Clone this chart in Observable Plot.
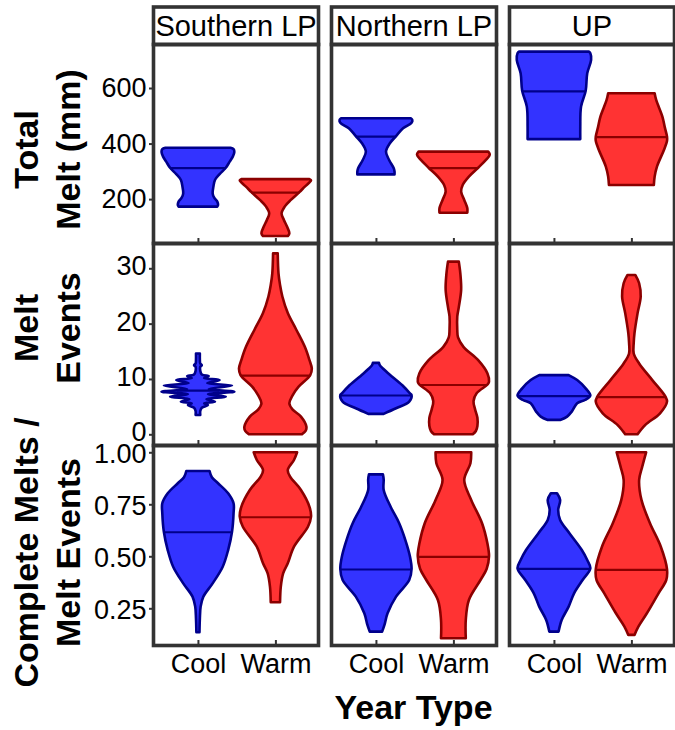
<!DOCTYPE html>
<html><head><meta charset="utf-8">
<script src="https://cdn.jsdelivr.net/npm/d3@7"></script>
<script src="https://cdn.jsdelivr.net/npm/@observablehq/plot@0.6"></script>
<style>
body{margin:0;background:#fff;}
#chart{position:relative;width:675px;height:730px;overflow:hidden;font-family:"Liberation Sans",Arial,Helvetica,sans-serif;}
#chart svg{position:absolute;left:0;}
#xtitle{position:absolute;left:153px;width:521px;top:690px;text-align:center;font-weight:bold;font-size:34px;line-height:1;color:#000;}
</style></head><body>
<div id="chart"><div id="xtitle">Year Type</div></div>
<script>
// ---- categories ----
const regions = ["Southern LP", "Northern LP", "UP"];
const yearTypes = ["Cool", "Warm"];

// ---- Total Melt (mm): violin profiles [value, relative half-width] ----
const meltSouthCool = [[173,0.25],[179,0.26],[191,0.25],[205,0.21],[221,0.19],[245,0.20],[269,0.22],[290,0.28],[313,0.36],[335,0.41],[353,0.45],[370,0.47],[380,0.46],[385,0.42]];
const meltSouthWarm = [[67,0.16],[77,0.18],[101,0.15],[125,0.11],[149,0.08],[173,0.12],[197,0.20],[225,0.31],[245,0.38],[260,0.44],[268,0.46],[272,0.44]];
const meltNorthCool = [[289,0.24],[300,0.24],[311,0.23],[341,0.17],[371,0.13],[401,0.18],[427,0.26],[455,0.35],[475,0.46],[485,0.47],[491,0.45]];
const meltNorthWarm = [[151,0.18],[167,0.18],[197,0.14],[227,0.10],[251,0.12],[281,0.20],[313,0.32],[341,0.42],[360,0.47],[371,0.45]];
const meltUpCool = [[416,0.34],[461,0.34],[533,0.35],[590,0.41],[653,0.43],[701,0.48],[725,0.47],[731,0.45]];
const meltUpWarm = [[251,0.29],[281,0.30],[317,0.33],[377,0.42],[410,0.46],[425,0.46],[460,0.43],[497,0.40],[557,0.32],[581,0.30]];
const meltMedians = [313, 225, 427, 313, 590, 425];

// ---- Melt Events ----
const eventsSouthCool = [[3.5,0.03],[4.2,0.03],[4.8,0.05],[5.3,0.13],[5.6,0.08],[5.9,0.22],[6.35,0.11],[6.8,0.36],[7.25,0.13],[7.7,0.47],[8.2,0.14],[8.8,0.44],[9.25,0.12],[9.8,0.28],[10.15,0.08],[10.5,0.14],[10.8,0.05],[11.5,0.03],[12.2,0.03],[12.5,0.05],[12.8,0.03],[13.5,0.025],[14.6,0.025]];
const eventsSouthWarm = [[0,0.34],[0.6,0.39],[1.4,0.40],[3.2,0.33],[4.5,0.22],[5.6,0.18],[7,0.22],[8.6,0.30],[10.7,0.45],[11.9,0.47],[13.4,0.44],[15.8,0.38],[18.9,0.27],[21.9,0.16],[24.9,0.09],[27,0.06],[29.1,0.04],[32.7,0.03]];
const eventsNorthCool = [[3.7,0.10],[4.7,0.26],[5.9,0.43],[7.1,0.46],[7.4,0.44],[8.6,0.36],[10.4,0.21],[11.9,0.09],[12.5,0.05],[12.9,0.04]];
const eventsNorthWarm = [[0,0.25],[0.6,0.29],[1.5,0.31],[3,0.31],[4.5,0.28],[6,0.26],[7.4,0.30],[9.0,0.44],[9.5,0.46],[11.0,0.44],[13.4,0.32],[15.8,0.13],[17.5,0.06],[18.9,0.05],[21.3,0.05],[23,0.07],[26.1,0.10],[29,0.09],[31.2,0.07]];
const eventsUpCool = [[2.6,0.08],[3.2,0.17],[4.1,0.23],[5.6,0.30],[6.2,0.40],[7.0,0.47],[8.3,0.41],[9.8,0.30],[10.7,0.19]];
const eventsUpWarm = [[0,0.08],[1.7,0.18],[3.8,0.37],[5.9,0.46],[6.8,0.44],[9.8,0.27],[12.8,0.10],[14.6,0.03],[16.5,0.03],[18.3,0.04],[21.9,0.08],[24.9,0.12],[27.3,0.10],[28.8,0.05]];
const eventMedians = [8.0, 10.7, 7.1, 9.0, 7.0, 6.8];

// ---- Complete Melts / Melt Events ----
const ratioSouthCool = [[0.135,0.02],[0.2,0.025],[0.258,0.035],[0.306,0.07],[0.37,0.19],[0.45,0.32],[0.53,0.39],[0.618,0.44],[0.707,0.46],[0.755,0.46],[0.803,0.39],[0.851,0.26],[0.88,0.18],[0.91,0.15]];
const ratioSouthWarm = [[0.279,0.06],[0.354,0.07],[0.418,0.10],[0.466,0.16],[0.546,0.24],[0.642,0.42],[0.69,0.46],[0.738,0.44],[0.819,0.33],[0.883,0.19],[0.915,0.16],[0.963,0.24],[1.0,0.28]];
const ratioNorthCool = [[0.138,0.08],[0.17,0.11],[0.226,0.15],[0.306,0.26],[0.386,0.43],[0.439,0.46],[0.498,0.44],[0.578,0.38],[0.659,0.30],[0.738,0.19],[0.819,0.10],[0.87,0.10],[0.894,0.09]];
const ratioNorthWarm = [[0.106,0.16],[0.194,0.16],[0.29,0.20],[0.386,0.35],[0.44,0.43],[0.5,0.46],[0.56,0.44],[0.659,0.37],[0.771,0.23],[0.867,0.14],[0.947,0.22],[1.0,0.23]];
const ratioUpCool = [[0.138,0.06],[0.194,0.10],[0.258,0.19],[0.322,0.26],[0.386,0.37],[0.442,0.47],[0.482,0.43],[0.53,0.36],[0.611,0.20],[0.675,0.08],[0.723,0.055],[0.771,0.08],[0.803,0.04]];
const ratioUpWarm = [[0.122,0.04],[0.162,0.09],[0.226,0.20],[0.322,0.35],[0.386,0.45],[0.437,0.46],[0.546,0.38],[0.659,0.24],[0.771,0.13],[0.867,0.10],[0.931,0.14],[1.0,0.19]];
const ratioMedians = [0.618, 0.69, 0.439, 0.5, 0.442, 0.437];

// ---- axis ticks / labels ----
const meltTicks = [200, 400, 600];
const eventTicks = [0, 10, 20, 30];
const ratioTicks = [0.25, 0.5, 0.75, 1.0];
const rowTitles = ["Total\nMelt (mm)", "Melt\nEvents", "Complete Melts /\nMelt Events"];

// ---- styling ----
const FONT = '"Liberation Sans", Arial, Helvetica, sans-serif';
const fills = {Cool: "#3333ff", Warm: "#ff3333"};
const strokes = {Cool: "#00008b", Warm: "#8b0000"};
const typePos = {Cool: 1, Warm: 2};
const W = 675;
const fxOpts = {domain: regions, paddingInner: 13 / 178, paddingOuter: 0, axis: null, round: false};
const facetM = {marginTop: 0, marginRight: 0, marginBottom: 0, marginLeft: 0};
const xDomain = [0.42, 2.55];
const chart = document.getElementById("chart");

function group(list) {
  // list order: SLP Cool, SLP Warm, NLP Cool, NLP Warm, UP Cool, UP Warm
  return list.map((arr, i) => [regions[Math.floor(i / 2)], yearTypes[i % 2], arr]);
}
function rowsFrom(profiles) {
  return profiles.flatMap(([region, type, arr]) => arr.map(([value, w]) => ({region, type, value, w})));
}
function widthAt(arr, v) {
  for (let i = 1; i < arr.length; i++) {
    const [v0, w0] = arr[i - 1], [v1, w1] = arr[i];
    if (v >= v0 && v <= v1) return w0 + (w1 - w0) * (v - v0) / (v1 - v0);
  }
  return arr[arr.length - 1][1];
}
function medianRows(profiles, medians) {
  return profiles.map(([region, type, arr], i) => ({region, type, value: medians[i], w: widthAt(arr, medians[i])}));
}
const baseStyle = {background: "transparent", fontFamily: FONT, fontSize: "27px", color: "black", overflow: "visible"};

function panelRow({profiles, medians, yDomain, yTicks, yFormat, labelDy, title, titleDy, top, height, marginBottom, showX}) {
  const data = rowsFrom(profiles);
  const med = medianRows(profiles, medians);
  const marks = [Plot.frame({stroke: "#333", strokeWidth: 3.6, insetBottom: -5})];
  for (const t of yearTypes) {
    marks.push(Plot.areaX(data.filter(d => d.type === t), {
      fx: "region", y: "value",
      x1: d => typePos[d.type] - d.w, x2: d => typePos[d.type] + d.w,
      z: "region", fill: fills[t], stroke: strokes[t], strokeWidth: 2.6, strokeLinejoin: "round",
      curve: "catmull-rom"
    }));
    marks.push(Plot.ruleY(med.filter(d => d.type === t), {
      fx: "region", y: "value",
      x1: d => typePos[d.type] - d.w, x2: d => typePos[d.type] + d.w,
      stroke: strokes[t], strokeWidth: 2.2
    }));
  }
  // y ticks (marks only) and y tick labels
  marks.push(Plot.axisY({ticks: yTicks, tickSize: 4, tickFormat: () => "", label: null, strokeWidth: 2, stroke: "#333"}));
  marks.push(Plot.axisY({ticks: yTicks, tickSize: 0, tickPadding: 7, tickFormat: yFormat, fontSize: 27, label: null, dy: labelDy}));
  marks.push(Plot.axisX({ticks: [1, 2], tickSize: 5, tickPadding: 8, fontSize: 27, label: null, strokeWidth: 2, stroke: "#333",
    tickFormat: showX ? (d => yearTypes[d - 1]) : (() => "")}));
  marks.push(Plot.text([{region: regions[0], label: title}], {
    fx: "region", text: "label", frameAnchor: "left", rotate: -90, dx: -108, dy: titleDy,
    fontSize: 34, fontWeight: "bold", lineHeight: 1.24, textAnchor: "middle", fill: "black"
  }));
  const svg = Plot.plot({
    width: W, height, marginLeft: 153, marginRight: 1, marginTop: 4, marginBottom,
    fx: fxOpts, facet: facetM,
    x: {domain: xDomain, axis: null},
    y: {domain: yDomain, axis: null},
    style: baseStyle,
    marks
  });
  svg.style.top = top + "px";
  chart.appendChild(svg);
}

// strip labels
const strip = Plot.plot({
  width: W, height: 47, marginLeft: 153, marginRight: 1, marginTop: 6.5, marginBottom: 3,
  fx: fxOpts, facet: facetM, style: baseStyle,
  marks: [
    Plot.frame({stroke: "#333", strokeWidth: 3.6}),
    Plot.text(regions, {fx: d => d, text: d => d, frameAnchor: "middle", fontSize: 29, dy: 1, fill: "black"})
  ]
});
strip.style.top = "0px";
chart.appendChild(strip);

panelRow({
  profiles: group([meltSouthCool, meltSouthWarm, meltNorthCool, meltNorthWarm, meltUpCool, meltUpWarm]),
  medians: meltMedians, yDomain: [60, 758.4], yTicks: meltTicks, yFormat: d => String(d), labelDy: 0,
  title: rowTitles[0], titleDy: 8, top: 40, height: 205, marginBottom: 7, showX: false
});
panelRow({
  profiles: group([eventsSouthCool, eventsSouthWarm, eventsNorthCool, eventsNorthWarm, eventsUpCool, eventsUpWarm]),
  medians: eventMedians, yDomain: [-1.03, 34.57], yTicks: eventTicks, yFormat: d => String(d), labelDy: -2,
  title: rowTitles[1], titleDy: -14, top: 239, height: 208, marginBottom: 7, showX: false
});
panelRow({
  profiles: group([ratioSouthCool, ratioSouthWarm, ratioNorthCool, ratioNorthWarm, ratioUpCool, ratioUpWarm]),
  medians: ratioMedians, yDomain: [0.0976, 1.035], yTicks: ratioTicks, yFormat: d3.format(".2f"), labelDy: 2,
  title: rowTitles[2], titleDy: 9.5, top: 441, height: 249, marginBottom: 50, showX: true
});
</script>
</body></html>
